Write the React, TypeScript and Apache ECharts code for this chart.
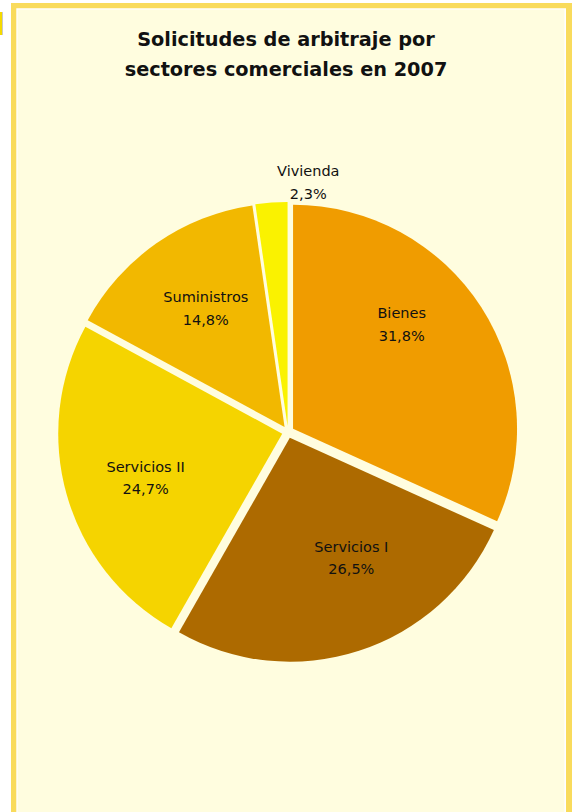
import React, { useEffect, useRef } from "react";
import * as echarts from "echarts";

const categories = ["Bienes", "Servicios I", "Servicios II", "Suministros", "Vivienda"];
const shares = [31.8, 26.5, 24.7, 14.8, 2.3];
const sliceColors = ["#F09C00", "#AD6A00", "#F5D400", "#F2B800", "#FAF200"];
const labelShift = [
  [12, -42],
  [26, 11],
  [-26, 13],
  [-13, -24],
  [29, -129],
];
const titleText = "Solicitudes de arbitraje por\nsectores comerciales en 2007";

const CREAM = "#FFFDDF";
const FRAME = "#F9DB5C";

export default function App() {
  const ref = useRef<HTMLDivElement>(null);
  useEffect(() => {
    if (!ref.current) return;
    const chart = echarts.init(ref.current, undefined, { renderer: "svg" });
    chart.setOption({
      animation: false,
      backgroundColor: "#FFFFFF",
      title: {
        text: titleText,
        left: "center",
        top: 19,
        textStyle: {
          fontFamily: "DejaVu Sans",
          fontWeight: "bold",
          fontSize: 19.3,
          lineHeight: 30,
          color: "#111111",
        },
      },
      graphic: [
        { type: "rect", z: -10, silent: true, shape: { x: 0, y: 12, width: 2, height: 23 }, style: { fill: "#F5DA00" } },
        { type: "rect", z: -10, silent: true, shape: { x: 2, y: 12, width: 1, height: 23 }, style: { fill: "#C8C8C8" } },
        { type: "rect", z: -10, silent: true, shape: { x: 11, y: 3, width: 600, height: 900 }, style: { fill: FRAME } },
        { type: "rect", z: -9, silent: true, shape: { x: 16.3, y: 8.3, width: 549.7, height: 900 }, style: { fill: "#FFFFFF" } },
        { type: "rect", z: -8, silent: true, shape: { x: 17.6, y: 9.6, width: 546.8, height: 900 }, style: { fill: CREAM } },
      ],
      series: [
        {
          type: "pie",
          center: [288, 432],
          radius: 224,
          startAngle: 90,
          clockwise: true,
          selectedMode: "multiple",
          selectedOffset: 6,
          emphasis: { disabled: true },
          select: { itemStyle: { borderWidth: 0 } },
          itemStyle: { borderWidth: 0 },
          labelLine: { show: false },
          label: {
            show: true,
            position: "inside",
            fontFamily: "DejaVu Sans",
            fontSize: 14.5,
            lineHeight: 22.5,
            color: "#111111",
            formatter: (p: any) => `${p.name}\n${shares[p.dataIndex].toFixed(1).replace(".", ",")}%`,
          },
          labelLayout: (p: any) => ({ dx: labelShift[p.dataIndex][0], dy: labelShift[p.dataIndex][1] }),
          data: categories.map((name, i) => ({
            name,
            value: shares[i],
            selected: true,
            itemStyle: { color: sliceColors[i] },
          })),
        },
      ],
    });
    return () => chart.dispose();
  }, []);
  return <div ref={ref} style={{ position: "absolute", left: 0, top: 0, width: 572, height: 812 }} />;
}
